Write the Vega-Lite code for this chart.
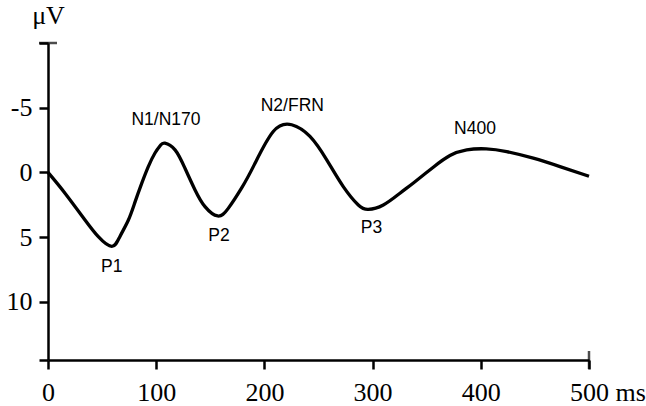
{
  "$schema": "https://vega.github.io/schema/vega-lite/v6.json",
  "autosize": {"type": "none"},
  "padding": {"left": 48, "top": 43, "right": 57, "bottom": 46},
  "width": 541,
  "height": 317,
  "background": "white",
  "config": {"view": {"stroke": null}},
  "layer": [
    {
      "data": {"values": [
        {"t": 0, "v": 0}, {"t": 15.7, "v": 1.61}, {"t": 34.2, "v": 3.68}, {"t": 46.5, "v": 4.97},
        {"t": 58.9, "v": 5.72}, {"t": 66.5, "v": 4.95}, {"t": 74.2, "v": 3.7}, {"t": 80.4, "v": 2.3},
        {"t": 86.6, "v": 0.85}, {"t": 92.7, "v": -0.45}, {"t": 98.9, "v": -1.5}, {"t": 104, "v": -2.1},
        {"t": 108, "v": -2.26}, {"t": 117.4, "v": -1.74}, {"t": 126.6, "v": -0.32}, {"t": 135.9, "v": 1.36},
        {"t": 145.1, "v": 2.65}, {"t": 156.8, "v": 3.37}, {"t": 166.6, "v": 2.78}, {"t": 179, "v": 1.2},
        {"t": 190.7, "v": -0.6}, {"t": 208.2, "v": -3.16}, {"t": 225.2, "v": -3.68},
        {"t": 242.1, "v": -2.78}, {"t": 257.6, "v": -0.97}, {"t": 272.9, "v": 1.1}, {"t": 286.8, "v": 2.52},
        {"t": 296, "v": 2.86}, {"t": 309.9, "v": 2.52}, {"t": 325.3, "v": 1.61}, {"t": 338, "v": 0.8},
        {"t": 356.1, "v": -0.4}, {"t": 371.5, "v": -1.3}, {"t": 387, "v": -1.74}, {"t": 405, "v": -1.82},
        {"t": 423.9, "v": -1.61}, {"t": 448.5, "v": -1.1}, {"t": 473.2, "v": -0.45}, {"t": 500, "v": 0.3}
      ]},
      "mark": {"type": "line", "interpolate": "natural", "color": "black", "strokeWidth": 3.3, "clip": false},
      "encoding": {
        "x": {"field": "t", "type": "quantitative",
          "scale": {"domain": [0, 500], "nice": false, "zero": false},
          "axis": {"values": [0, 100, 200, 300, 400, 500], "grid": false, "title": "ms",
            "titleFont": "Liberation Serif", "titleFontSize": 26, "titleFontWeight": "normal", "titleColor": "black",
            "titleX": 567, "titleY": 19, "titleAlign": "left", "titleBaseline": "top", "titleAnchor": null,
            "domainColor": "black", "domainWidth": 2.5, "tickColor": "black", "tickWidth": 2.5, "tickSize": 9,
            "labelFont": "Liberation Serif", "labelFontSize": 26, "labelColor": "black", "labelPadding": 10,
            "labelFlush": false, "labelOverlap": false, "format": "d"}},
        "y": {"field": "v", "type": "quantitative",
          "scale": {"domain": [-10, 14.5], "reverse": true, "nice": false, "zero": false},
          "axis": {"values": [-10, -5, 0, 5, 10, 14.5], "grid": false, "title": "μV",
            "labelExpr": "(datum.value == -10 || datum.value == 14.5) ? '' : replace(datum.label, '−', '-')",
            "titleFont": "Liberation Serif", "titleFontSize": 26, "titleFontWeight": "normal", "titleColor": "black",
            "titleAngle": 0, "titleX": 0, "titleY": -20, "titleAlign": "center", "titleBaseline": "alphabetic",
            "domainColor": "black", "domainWidth": 2.5, "tickColor": "black", "tickWidth": 2.5, "tickSize": 9,
            "labelFont": "Liberation Serif", "labelFontSize": 26, "labelColor": "black", "labelPadding": 7,
            "labelFlush": false, "labelOverlap": false, "format": "d"}}
      }
    },
    {
      "data": {"values": [{"t": 0, "v": -10}]},
      "mark": {"type": "tick", "orient": "horizontal", "color": "black", "thickness": 2.5, "size": 18, "clip": false},
      "encoding": {"x": {"field": "t", "type": "quantitative"}, "y": {"field": "v", "type": "quantitative"}}
    },
    {
      "data": {"values": [{"t": 500, "v": 14.5}]},
      "mark": {"type": "tick", "orient": "vertical", "color": "black", "thickness": 2.5, "size": 18, "clip": false},
      "encoding": {"x": {"field": "t", "type": "quantitative"}, "y": {"field": "v", "type": "quantitative"}}
    },
    {
      "data": {"values": [
        {"t": 58.9, "v": 7.34, "label": "P1"},
        {"t": 158, "v": 4.9, "label": "P2"},
        {"t": 109, "v": -4.02, "label": "N1/N170"},
        {"t": 225.8, "v": -5.1, "label": "N2/FRN"},
        {"t": 299, "v": 4.33, "label": "P3"},
        {"t": 394.6, "v": -3.35, "label": "N400"}
      ]},
      "mark": {"type": "text", "font": "Liberation Sans", "fontSize": 17.5, "color": "black", "align": "center", "baseline": "middle"},
      "encoding": {
        "x": {"field": "t", "type": "quantitative"},
        "y": {"field": "v", "type": "quantitative"},
        "text": {"field": "label"}
      }
    }
  ]
}
